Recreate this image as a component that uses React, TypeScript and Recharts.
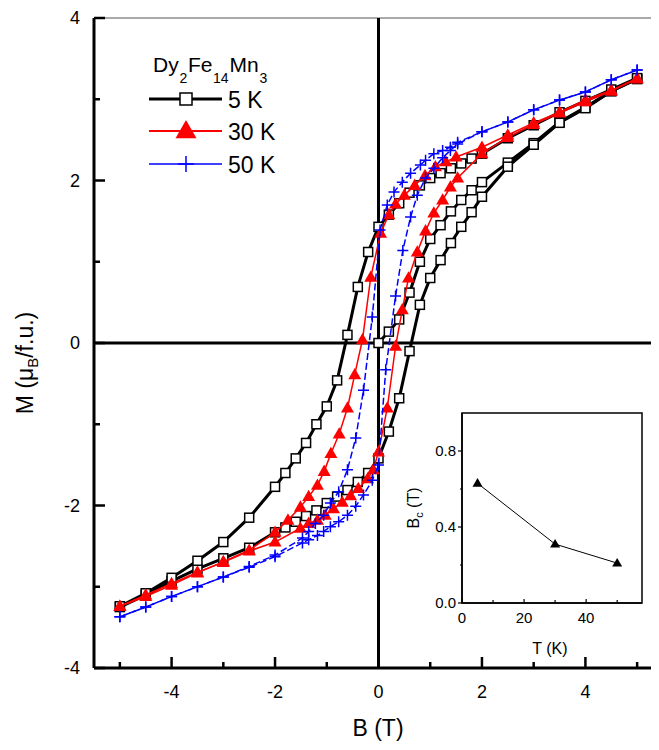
import { ScatterChart, Scatter, XAxis, YAxis, ReferenceLine, ReferenceArea } from "recharts";

const FONT = '"Liberation Sans", Arial, Helvetica, sans-serif';

// M(B) loops of DyFe14Mn3 as [B (T), M (μB/f.u.)]
const down5K = [
    [5, 3.26], [4.5, 3.12], [4, 2.98], [3.5, 2.84], [3, 2.68], [2.5, 2.52], [2, 2.33],
    [1.8, 2.27], [1.6, 2.21], [1.4, 2.15], [1.2, 2.09], [1, 2.03], [0.8, 1.94], [0.6, 1.85],
    [0.4, 1.72], [0.2, 1.58], [0, 1.43], [-0.2, 1.12], [-0.4, 0.69], [-0.6, 0.1], [-0.8, -0.46],
    [-1, -0.78], [-1.2, -1.0], [-1.4, -1.23], [-1.6, -1.42], [-1.8, -1.6], [-2, -1.77],
    [-2.5, -2.15], [-3, -2.45], [-3.5, -2.68], [-4, -2.89], [-4.5, -3.08], [-5, -3.24],
];
const up5K = [
    [-5, -3.25], [-4.5, -3.1], [-4, -2.93], [-3.5, -2.78], [-3, -2.65], [-2.5, -2.52], [-2, -2.33],
    [-1.8, -2.27], [-1.6, -2.2], [-1.4, -2.13], [-1.2, -2.06], [-1, -1.97], [-0.8, -1.89],
    [-0.6, -1.81], [-0.4, -1.71], [-0.2, -1.6], [0, -1.42], [0.2, -1.09], [0.4, -0.68], [0.6, -0.1],
    [0.8, 0.47], [1, 0.8], [1.2, 1.02], [1.4, 1.23], [1.6, 1.43], [1.8, 1.61], [2, 1.8],
    [2.5, 2.17], [3, 2.44], [3.5, 2.71], [4, 2.89], [4.5, 3.1], [5, 3.25],
];
const virgin5K = [
    [0, 0], [0.2, 0.14], [0.4, 0.29], [0.6, 0.62], [0.8, 1.0], [1, 1.28], [1.2, 1.45], [1.4, 1.62],
    [1.6, 1.76], [1.8, 1.88], [2, 1.98], [2.5, 2.22], [3, 2.46], [3.5, 2.72], [4, 2.9], [4.5, 3.1], [5, 3.25],
];

const down30K = [
    [5, 3.26], [4.5, 3.11], [4, 2.99], [3.5, 2.84], [3, 2.71], [2.5, 2.56], [2, 2.41], [1.5, 2.29],
    [1.3, 2.23], [1.1, 2.17], [0.9, 2.06], [0.7, 1.94], [0.5, 1.82], [0.33, 1.71], [0.2, 1.58],
    [0.04, 1.35], [-0.15, 0.81], [-0.31, 0.04], [-0.46, -0.39], [-0.6, -0.8], [-0.76, -1.12],
    [-0.92, -1.36], [-1.05, -1.58], [-1.18, -1.75], [-1.35, -1.89], [-1.51, -2.02], [-1.75, -2.18],
    [-2, -2.33], [-2.5, -2.55], [-3, -2.69], [-3.5, -2.83], [-4, -2.98], [-4.5, -3.12], [-5, -3.24],
];
const up30K = [
    [-5, -3.24], [-4.5, -3.1], [-4, -2.96], [-3.5, -2.82], [-3, -2.7], [-2.5, -2.56], [-2, -2.45],
    [-1.51, -2.28], [-1.35, -2.22], [-1.18, -2.18], [-1.03, -2.12], [-0.87, -2.04], [-0.7, -1.96],
    [-0.54, -1.88], [-0.39, -1.79], [-0.21, -1.67], [-0.1, -1.56], [0, -1.34], [0.17, -0.8],
    [0.33, -0.04], [0.46, 0.41], [0.58, 0.8], [0.75, 1.12], [0.91, 1.38], [1.07, 1.6], [1.24, 1.76],
    [1.39, 1.92], [1.53, 2.03], [2, 2.33], [2.5, 2.53], [3, 2.69], [3.5, 2.83], [4, 2.97], [4.5, 3.1], [5, 3.25],
];

const down50K = [
    [5, 3.36], [4.5, 3.24], [4, 3.09], [3.5, 2.99], [3, 2.87], [2.5, 2.72], [2, 2.6], [1.53, 2.47],
    [1.39, 2.41], [1.24, 2.37], [1.07, 2.33], [0.91, 2.25], [0.81, 2.19], [0.62, 2.09], [0.46, 1.98],
    [0.3, 1.86], [0.17, 1.7], [0.03, 1.39], [-0.12, 0.32], [-0.29, -0.58], [-0.44, -1.17],
    [-0.6, -1.56], [-0.77, -1.83], [-0.93, -1.97], [-1.06, -2.12], [-1.22, -2.22], [-1.35, -2.32],
    [-1.47, -2.4], [-2, -2.61], [-2.5, -2.75], [-3, -2.88], [-3.5, -3.0], [-4, -3.12], [-4.5, -3.25], [-5, -3.37],
];
const up50K = [
    [-5, -3.37], [-4.5, -3.25], [-4, -3.12], [-3.5, -3.0], [-3, -2.88], [-2.5, -2.76], [-2, -2.63],
    [-1.47, -2.46], [-1.35, -2.42], [-1.18, -2.37], [-1.06, -2.32], [-0.93, -2.26], [-0.77, -2.2],
    [-0.6, -2.12], [-0.44, -2.01], [-0.29, -1.87], [-0.12, -1.69], [0, -1.5], [0.14, -0.33],
    [0.33, 0.58], [0.47, 1.14], [0.62, 1.55], [0.75, 1.82], [0.91, 2.03], [1.07, 2.15], [1.24, 2.28],
    [1.39, 2.37], [1.53, 2.45], [2, 2.6], [2.5, 2.72], [3, 2.87], [3.5, 2.99], [4, 3.09], [4.5, 3.24], [5, 3.36],
];

const fieldTicks = [-5, -4, -3, -2, -1, 0, 1, 2, 3, 4, 5];
const fieldLabels = [-4, -2, 0, 2, 4];
const momentTicks = [-4, -3, -2, -1, 0, 1, 2, 3, 4];
const momentLabels = [-4, -2, 0, 2, 4];

// inset: coercive field vs temperature
const insetTemps = [5, 30, 50];
const insetBc = [0.63, 0.31, 0.21];
const insetTTicks = [0, 10, 20, 30, 40, 50];
const insetTLabels = [0, 20, 40];
const insetBcTicks = [0, 0.2, 0.4, 0.6, 0.8];
const insetBcLabels = [0, 0.4, 0.8];

const toPoints = (rows: number[][]) => rows.map(([b, m]) => ({ b, m }));
const insetData = insetTemps.map((t, i) => ({ t, bc: insetBc[i] }));

function Square({ cx, cy, s = 9 }: { cx: number; cy: number; s?: number }) {
    return <rect x={cx - s / 2} y={cy - s / 2} width={s} height={s} fill="#fff" stroke="#000" strokeWidth={1.5} />;
}

function Triangle({ cx, cy, w = 13, fill = "#ff0000" }: { cx: number; cy: number; w?: number; fill?: string }) {
    const h = w * 0.87;
    return <polygon points={`${cx},${cy - h * 0.6} ${cx + w / 2},${cy + h * 0.4} ${cx - w / 2},${cy + h * 0.4}`} fill={fill} />;
}

function Plus({ cx, cy, r = 5.5 }: { cx: number; cy: number; r?: number }) {
    return <path d={`M${cx - r},${cy}H${cx + r}M${cx},${cy - r}V${cy + r}`} stroke="#0000ff" strokeWidth={1.5} fill="none" />;
}

function FieldTick({ x, y, payload }: any) {
    const major = fieldLabels.includes(payload.value);
    return (
        <g>
            <line x1={x} x2={x} y1={y} y2={y - (major ? 11 : 6)} stroke="#000" strokeWidth={2.5} />
            {major && (
                <text x={x} y={y + 30} textAnchor="middle" fontSize={18} fontFamily={FONT} fill="#000">
                    {payload.value}
                </text>
            )}
        </g>
    );
}

function MomentTick({ x, y, payload }: any) {
    const major = momentLabels.includes(payload.value);
    return (
        <g>
            <line x1={x} x2={x + (major ? 11 : 6)} y1={y} y2={y} stroke="#000" strokeWidth={2.5} />
            {major && (
                <text x={x - 14} y={y} dy="0.36em" textAnchor="end" fontSize={18} fontFamily={FONT} fill="#000">
                    {payload.value}
                </text>
            )}
        </g>
    );
}

function InsetTTick({ x, y, payload }: any) {
    const major = insetTLabels.includes(payload.value);
    return (
        <g>
            <line x1={x} x2={x} y1={y} y2={y - (major ? 4 : 3)} stroke="#000" strokeWidth={1.2} />
            {major && (
                <text x={x} y={y + 20} textAnchor="middle" fontSize={15} fontFamily={FONT} fill="#000">
                    {payload.value}
                </text>
            )}
        </g>
    );
}

function InsetBcTick({ x, y, payload }: any) {
    const major = insetBcLabels.includes(payload.value);
    return (
        <g>
            <line x1={x} x2={x - (major ? 4 : 2)} y1={y} y2={y} stroke="#000" strokeWidth={1.2} />
            {major && (
                <text x={x - 6} y={y} dy="0.36em" textAnchor="end" fontSize={15} fontFamily={FONT} fill="#000">
                    {payload.value.toFixed(1)}
                </text>
            )}
        </g>
    );
}

const legendRows = [
    { label: "5 K", stroke: "#000", width: 3, y: 99 },
    { label: "30 K", stroke: "#ff0000", width: 2, y: 131 },
    { label: "50 K", stroke: "#0000ff", width: 1.5, y: 164 },
];

export default function App() {
    const blackLine = { stroke: "#000", strokeWidth: 3 };
    const redLine = { stroke: "#ff0000", strokeWidth: 1.5 };
    const blueLine = { stroke: "#0000ff", strokeWidth: 1.5, strokeDasharray: "7 3" };

    return (
        <div style={{ position: "relative", width: 659, height: 750, margin: -8, overflow: "hidden", background: "#fff" }}>
            <ScatterChart width={700} height={750} margin={{ top: 18, right: 37, bottom: 0, left: 0 }}>
                <XAxis
                    type="number"
                    dataKey="b"
                    domain={[-5.5, 5.5]}
                    ticks={fieldTicks}
                    interval={0}
                    allowDataOverflow
                    height={82}
                    tickSize={0}
                    tickMargin={0}
                    tickLine={false}
                    axisLine={{ stroke: "#000", strokeWidth: 3 }}
                    tick={(p: any) => <FieldTick {...p} />}
                />
                <YAxis
                    type="number"
                    dataKey="m"
                    domain={[-4, 4]}
                    ticks={momentTicks}
                    interval={0}
                    allowDataOverflow
                    width={94}
                    tickSize={0}
                    tickMargin={0}
                    tickLine={false}
                    axisLine={{ stroke: "#000", strokeWidth: 3 }}
                    tick={(p: any) => <MomentTick {...p} />}
                />
                <ReferenceLine y={4} stroke="#555" strokeWidth={1} />
                <ReferenceLine x={0} stroke="#000" strokeWidth={3} />
                <ReferenceLine y={0} stroke="#000" strokeWidth={3} />

                <Scatter data={toPoints(virgin5K)} line={blackLine} isAnimationActive={false}
                    shape={(p: any) => <Square cx={p.cx} cy={p.cy} />} />
                <Scatter data={toPoints(up5K)} line={blackLine} isAnimationActive={false}
                    shape={(p: any) => <Square cx={p.cx} cy={p.cy} />} />
                <Scatter data={toPoints(down5K)} line={blackLine} isAnimationActive={false}
                    shape={(p: any) => <Square cx={p.cx} cy={p.cy} />} />

                <Scatter data={toPoints(up30K)} line={redLine} isAnimationActive={false}
                    shape={(p: any) => <Triangle cx={p.cx} cy={p.cy} />} />
                <Scatter data={toPoints(down30K)} line={redLine} isAnimationActive={false}
                    shape={(p: any) => <Triangle cx={p.cx} cy={p.cy} />} />

                <Scatter data={toPoints(up50K)} line={blueLine} isAnimationActive={false}
                    shape={(p: any) => <Plus cx={p.cx} cy={p.cy} />} />
                <Scatter data={toPoints(down50K)} line={blueLine} isAnimationActive={false}
                    shape={(p: any) => <Plus cx={p.cx} cy={p.cy} />} />
            </ScatterChart>

            <div style={{ position: "absolute", left: 400, top: 400 }}>
                <ScatterChart width={250} height={260} margin={{ top: 13, right: 8, bottom: 0, left: 0 }}>
                    <XAxis
                        type="number"
                        dataKey="t"
                        domain={[0, 58]}
                        ticks={insetTTicks}
                        interval={0}
                        allowDataOverflow
                        height={57}
                        tickSize={0}
                        tickMargin={0}
                        tickLine={false}
                        axisLine={{ stroke: "#000", strokeWidth: 1.5 }}
                        tick={(p: any) => <InsetTTick {...p} />}
                    />
                    <YAxis
                        type="number"
                        dataKey="bc"
                        domain={[0, 1]}
                        ticks={insetBcTicks}
                        interval={0}
                        allowDataOverflow
                        width={62}
                        tickSize={0}
                        tickMargin={0}
                        tickLine={false}
                        axisLine={{ stroke: "#000", strokeWidth: 1.5 }}
                        tick={(p: any) => <InsetBcTick {...p} />}
                    />
                    <ReferenceArea x1={0} x2={58} y1={0} y2={1} fill="none" stroke="#000" strokeWidth={1.5} ifOverflow="visible" />
                    <Scatter data={insetData} line={{ stroke: "#000", strokeWidth: 1 }} isAnimationActive={false}
                        shape={(p: any) => <Triangle cx={p.cx} cy={p.cy} w={10} fill="#000" />} />
                </ScatterChart>
            </div>

            <svg width={659} height={750} style={{ position: "absolute", left: 0, top: 0, pointerEvents: "none" }} fontFamily={FONT}>
                <text fontSize={21} fill="#000">
                    <tspan x={153} y={72}>Dy</tspan>
                    <tspan x={179.5} y={83} fontSize={14}>2</tspan>
                    <tspan x={188} y={72}>Fe</tspan>
                    <tspan x={213} y={83} fontSize={14}>14</tspan>
                    <tspan x={229.5} y={72}>Mn</tspan>
                    <tspan x={259.5} y={83} fontSize={14}>3</tspan>
                </text>
                {legendRows.map((r) => (
                    <g key={r.label}>
                        <line x1={149} x2={222} y1={r.y} y2={r.y} stroke={r.stroke} strokeWidth={r.width} />
                        <text x={228} y={r.y + 9} fontSize={23} fill="#000">{r.label}</text>
                    </g>
                ))}
                <Square cx={186} cy={99} s={12} />
                <Triangle cx={186} cy={131} w={21} />
                <Plus cx={186} cy={164} r={8} />

                <text x={378} y={736} textAnchor="middle" fontSize={23} fill="#000">B (T)</text>
                <text transform="translate(33,363) rotate(-90)" textAnchor="middle" fontSize={23} fill="#000">
                    M (μ<tspan fontSize={15} dy={5}>B</tspan><tspan dy={-5}>/f.u.)</tspan>
                </text>

                <text x={550} y={654} textAnchor="middle" fontSize={16} fill="#000">T (K)</text>
                <text transform="translate(419,508) rotate(-90)" textAnchor="middle" fontSize={16} fill="#000">
                    B<tspan fontSize={11} dy={4}>c</tspan><tspan dy={-4}> (T)</tspan>
                </text>
            </svg>
        </div>
    );
}
